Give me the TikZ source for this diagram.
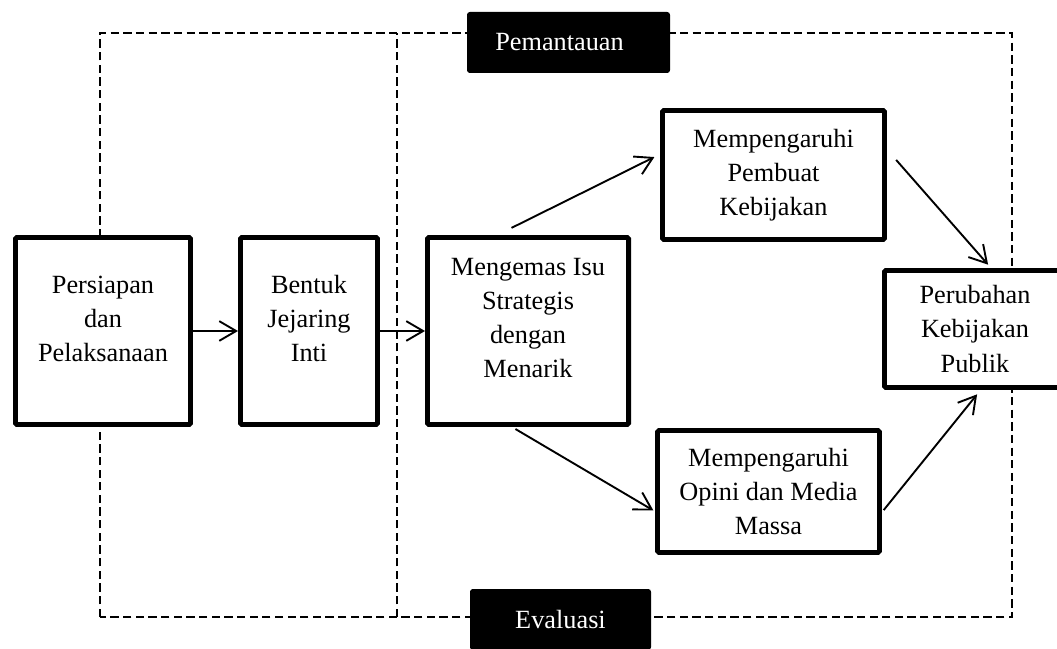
\documentclass[tikz,border=0pt]{standalone}
\usepackage{fontspec}
\setmainfont{Liberation Serif}
\usetikzlibrary{arrows.meta,calc}

\begin{document}
\begin{tikzpicture}[
    stage/.style={
        rectangle,
        draw=black,
        line width=3.4pt,
        fill=white,
        rounded corners=1pt,
        align=center,
        font=\fontsize{18.7}{24.2}\selectfont
    },
    tag/.style={
        rectangle,
        fill=black,
        text=white,
        rounded corners=2pt,
        minimum height=1.525cm,
        font=\fontsize{18.7}{24.2}\selectfont
    },
    flow/.style={
        -{Straight Barb[length=12pt,width=14pt]},
        line width=1.35pt
    },
    frame/.style={
        dash pattern=on 5.9pt off 3.1pt,
        line width=1.35pt
    }
]

\useasboundingbox (0,0) rectangle (26.425,16.2);

% Dashed frame
\draw[frame] (2.5,0.775) rectangle (25.3,15.375);
\draw[frame] (9.925,0.775) -- (9.925,15.375);

% Labels
\node[tag, minimum width=5.075cm] (monitor) at (14.2125,15.1375) {Pemantauan\hspace*{0.45cm}};
\node[tag, minimum width=4.525cm] (evaluation) at (14.0125,0.7125) {Evaluasi};

% Stages
\node[stage, minimum width=4.38cm, minimum height=4.68cm, text depth=18pt] (prep) at (2.575,7.925) {Persiapan\\dan\\Pelaksanaan};
\node[stage, minimum width=3.43cm, minimum height=4.68cm, text depth=18pt] (net) at (7.725,7.925) {Bentuk\\Jejaring\\Inti};
\node[stage, minimum width=5.03cm, minimum height=4.68cm, text depth=18pt] (pack) at (13.2,7.925) {Mengemas Isu\\Strategis\\dengan\\Menarik};
\node[stage, minimum width=5.55cm, minimum height=3.23cm] (maker) at (19.3375,11.825) {Mempengaruhi\\Pembuat\\Kebijakan};
\node[stage, minimum width=5.55cm, minimum height=3.05cm] (opinion) at (19.2125,3.9125) {Mempengaruhi\\Opini dan Media\\Massa};
\node[stage, minimum width=4.53cm, minimum height=2.93cm] (change) at (24.375,7.975) {Perubahan\\Kebijakan\\Publik};

% Arrows
\draw[flow] (prep) -- (net);
\draw[flow] (net) -- (pack);
\draw[flow, shorten <=0.4cm, shorten >=0.16cm] ($(pack.north)+(-0.77,0)$) -- ($(maker.west)+(0,0.52)$);
\draw[flow, shorten <=0.1cm, shorten >=0.05cm] ($(pack.south)+(-0.4,0)$) -- ($(opinion.west)+(0,-0.5)$);
\draw[flow, shorten <=0.35cm, shorten >=0.11cm] ($(maker.east)+(0,0.64)$) -- ($(change.north)+(0.4,0)$);
\draw[flow, shorten <=0.07cm, shorten >=0.14cm] ($(opinion.east)+(0,-0.52)$) -- ($(change.south)+(0.14,0)$);

\end{tikzpicture}
\end{document}
